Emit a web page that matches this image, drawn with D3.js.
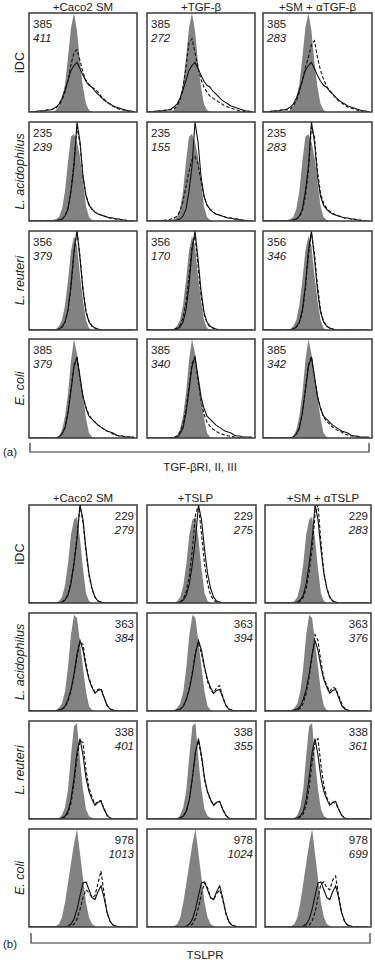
<!DOCTYPE html>
<html><head><meta charset="utf-8">
<script src="https://cdn.jsdelivr.net/npm/d3@7"></script>
<style>html,body{margin:0;padding:0;background:#fff;}svg{display:block;}</style>
</head><body><svg id="c" width="375" height="960"></svg>
<script>
// ---------- DATA ----------
const channels = [0,3,6,9,12,15,18,21,24,27,30,33,36,39,42,45,48,51,54,57,60,63,66,69,72,75,78,81,84,87,90,93,96,99,102,105];
const rowLabels = ["iDC", "L. acidophilus", "L. reuteri", "E. coli"];
const aTitles = ["+Caco2 SM", "+TGF-β", "+SM + αTGF-β"];
const bTitles = ["+Caco2 SM", "+TSLP", "+SM + αTSLP"];
const aAxisLabel = "TGF-βRI, II, III";
const bAxisLabel = "TSLPR";

// (a) TGF-beta receptor: isotype (filled), untreated (solid), treated (dashed)
const aGray = [
 [0,0,0,0,0,0,0,0,0,2,6,14,28,55,85,100,82,50,25,8,2,0,0,0,0,0,0,0,0,0,0,0,0,0,0,0],
 [0,0,0,0,0,0,0,1,1,2,4,12,30,60,85,88,80,65,40,15,4,1,0,0,0,0,0,0,0,0,0,0,0,0,0,0],
 [0,0,0,0,0,0,0,0,0,1,4,10,25,50,80,95,85,55,30,10,2,0,0,0,0,0,0,0,0,0,0,0,0,0,0,0],
 [0,0,0,0,0,0,0,0,0,0,2,8,22,45,78,100,85,62,42,20,5,1,0,0,0,0,0,0,0,0,0,0,0,0,0,0]
];
const aSolid = [
 [0,0,0,1,1,1,2,2,3,5,8,14,22,32,42,47,50,44,37,31,27,25,21,18,15,12,10,8,6,5,4,3,2,1,1,0],
 [0,0,0,0,0,0,0,0,0,0,1,2,5,12,30,55,100,80,45,25,16,12,9,7,6,5,4,3,3,2,2,1,1,0,0,0],
 [0,0,0,0,0,0,0,0,0,0,1,3,8,20,45,80,100,72,40,18,8,4,2,1,0,0,0,0,0,0,0,0,0,0,0,0],
 [0,0,0,0,0,0,0,0,0,0,1,4,10,25,48,72,82,62,42,30,22,19,16,13,11,9,7,6,5,3,2,2,1,1,1,1]
];
const aDashedCaco = [
 [0,0,0,1,1,1,2,2,3,4,7,12,20,32,48,60,63,52,40,32,28,25,23,20,16,13,10,8,6,4,3,2,2,1,1,0],
 [0,0,0,0,0,0,0,0,0,0,1,2,5,13,32,60,95,78,45,26,17,12,9,7,6,5,4,3,3,2,2,1,1,0,0,0],
 [0,0,0,0,0,0,0,0,0,0,1,3,8,20,44,78,100,75,42,19,9,4,2,1,0,0,0,0,0,0,0,0,0,0,0,0],
 [0,0,0,0,0,0,0,0,0,0,1,4,11,27,50,74,80,60,42,31,23,19,16,13,11,9,7,6,4,3,2,2,1,1,1,0]
];
const aDashedTGF = [
 [0,0,0,1,1,1,1,2,2,3,6,12,25,45,70,74,60,45,33,25,20,16,14,12,10,8,6,5,4,3,2,1,1,0,0,0],
 [0,0,0,0,0,0,1,1,2,3,5,10,20,35,50,62,65,58,40,25,16,12,9,7,6,5,4,3,3,2,2,1,1,0,0,0],
 [0,0,0,0,0,0,0,0,0,1,2,5,12,28,55,85,95,65,35,16,7,3,2,1,0,0,0,0,0,0,0,0,0,0,0,0],
 [0,0,0,0,0,0,0,0,0,1,2,6,14,30,52,75,82,58,38,24,16,12,9,7,5,4,3,2,2,1,1,0,0,0,0,0]
];
const aDashedAnti = [
 [0,0,0,1,1,1,2,2,2,3,6,11,20,32,45,55,68,72,55,42,33,26,22,18,14,11,9,7,5,4,3,2,1,1,0,0],
 [0,0,0,0,0,0,0,0,0,0,1,2,4,10,25,50,95,85,50,28,18,13,10,8,6,5,4,3,3,2,2,1,1,0,0,0],
 [0,0,0,0,0,0,0,0,0,0,1,3,7,18,42,75,98,78,45,20,9,4,2,1,0,0,0,0,0,0,0,0,0,0,0,0],
 [0,0,0,0,0,0,0,0,0,0,1,4,10,26,50,74,82,62,42,30,21,17,14,11,9,7,6,4,3,2,2,1,1,0,0,0]
];
const aMfiSolid = [385, 235, 356, 385];
const aMfiDashed = [[411,272,283],[239,155,283],[379,170,346],[379,340,342]];

// (b) TSLP receptor
const bGray = [
 [0,0,0,0,0,0,0,0,0,0,2,6,18,40,70,85,88,65,35,10,2,0,0,0,0,0,0,0,0,0,0,0,0,0,0,0],
 [0,0,0,0,0,0,0,0,0,1,3,8,20,45,78,98,95,70,45,20,5,1,0,0,0,0,0,0,0,0,0,0,0,0,0,0],
 [0,0,0,0,0,0,0,0,0,0,1,4,12,30,65,95,98,60,30,10,3,1,0,0,0,0,0,0,0,0,0,0,0,0,0,0],
 [0,0,0,0,0,0,0,0,0,1,3,10,25,45,65,85,100,75,50,25,10,3,1,0,0,0,0,0,0,0,0,0,0,0,0,0]
];
const bSolid = [
 [0,0,0,0,0,0,0,0,0,0,0,1,3,8,20,40,65,100,85,55,30,15,6,2,1,0,0,0,0,0,0,0,0,0,0,0],
 [0,0,0,0,0,0,0,0,0,0,1,2,5,12,22,38,58,72,62,45,32,24,18,21,22,14,6,2,1,0,0,0,0,0,0,0],
 [0,0,0,0,0,0,0,0,0,0,0,1,3,8,20,42,68,82,65,42,28,20,14,17,18,10,4,1,0,0,0,0,0,0,0,0],
 [0,0,0,0,0,0,0,0,0,0,0,0,0,1,3,8,18,32,45,46,38,30,28,36,42,30,15,6,2,1,0,0,0,0,0,0]
];
const bDashedCaco = [
 [0,0,0,0,0,0,0,0,0,0,0,1,3,9,22,42,68,100,82,52,28,14,6,2,1,0,0,0,0,0,0,0,0,0,0,0],
 [0,0,0,0,0,0,0,0,0,0,1,2,4,10,20,35,55,70,68,48,34,25,19,22,23,14,6,2,1,0,0,0,0,0,0,0],
 [0,0,0,0,0,0,0,0,0,0,0,1,2,6,16,36,62,80,78,50,32,22,15,18,19,11,4,1,0,0,0,0,0,0,0,0],
 [0,0,0,0,0,0,0,0,0,0,0,0,0,0,1,3,8,18,30,38,35,30,32,45,57,35,15,6,2,1,0,0,0,0,0,0]
];
const bDashedTSLP = [
 [0,0,0,0,0,0,0,0,0,0,0,1,4,12,28,55,90,100,70,40,20,8,3,1,0,0,0,0,0,0,0,0,0,0,0,0],
 [0,0,0,0,0,0,0,0,0,0,1,2,5,12,24,40,60,70,58,44,30,22,18,24,26,15,6,2,1,0,0,0,0,0,0,0],
 [0,0,0,0,0,0,0,0,0,0,0,1,3,8,20,42,68,80,62,40,27,19,14,17,18,10,4,1,0,0,0,0,0,0,0,0],
 [0,0,0,0,0,0,0,0,0,0,0,0,0,0,1,3,9,20,34,45,40,30,28,34,38,28,14,5,2,1,0,0,0,0,0,0]
];
const bDashedAnti = [
 [0,0,0,0,0,0,0,0,0,0,0,0,2,6,15,32,55,90,100,62,32,15,6,2,1,0,0,0,0,0,0,0,0,0,0,0],
 [0,0,0,0,0,0,0,0,0,0,1,1,3,8,18,34,56,78,72,50,34,26,20,24,23,16,8,3,1,0,0,0,0,0,0,0],
 [0,0,0,0,0,0,0,0,0,0,0,1,2,5,14,32,58,78,82,55,34,22,15,17,16,10,4,1,0,0,0,0,0,0,0,0],
 [0,0,0,0,0,0,0,0,0,0,0,0,0,0,1,2,6,15,30,44,46,40,38,48,52,32,15,6,2,1,0,0,0,0,0,0]
];
const bMfiSolid = [229, 363, 338, 978];
const bMfiDashed = [[279,275,283],[384,394,376],[401,355,361],[1013,1024,699]];

// ---------- DRAW ----------
const svg = d3.select("#c");
const FONT = "'Liberation Sans', Arial, Helvetica, sans-serif";
const TXT = "#222";
let clipId = 0;

function drawPart(cfg) {
  const dashedSets = cfg.dashed;
  cfg.rowY.forEach((py, r) => {
    svg.append("text")
      .attr("transform", `translate(${cfg.labelX},${py + cfg.h / 2}) rotate(-90)`)
      .attr("text-anchor", "middle")
      .style("font-family", FONT).style("font-size", "12.5px")
      .style("font-style", r === 0 ? "normal" : "italic")
      .attr("fill", TXT).text(rowLabels[r]);
    cfg.colX.forEach((px, c) => {
      const w = cfg.w[c], h = cfg.h;
      const x = d3.scaleLinear().domain([0, 108]).range([px, px + w]);
      const y = d3.scaleLinear().domain([0, 100]).range([py + h, py]);
      const id = "clip" + (clipId++);
      svg.append("clipPath").attr("id", id).append("rect")
        .attr("x", px).attr("y", py).attr("width", w).attr("height", h);
      const g = svg.append("g").attr("clip-path", `url(#${id})`);
      const area = d3.area().x((d, i) => x(channels[i])).y0(y(0)).y1(d => y(d)).curve(d3.curveLinear);
      const line = d3.line().x((d, i) => x(channels[i])).y(d => y(d)).curve(d3.curveLinear);
      g.append("path").datum(cfg.gray[r]).attr("d", area).attr("fill", "#828282");
      g.append("path").datum(cfg.solid[r]).attr("d", line).attr("fill", "none")
        .attr("stroke", "#111").attr("stroke-width", 1.1);
      g.append("path").datum(dashedSets[c][r]).attr("d", line).attr("fill", "none")
        .attr("stroke", "#111").attr("stroke-width", 1.1).attr("stroke-dasharray", "3.5,2");
      svg.append("rect").attr("x", px).attr("y", py).attr("width", w).attr("height", h)
        .attr("fill", "none").attr("stroke", "#3a3a3a").attr("stroke-width", 1.5);
      const tx = cfg.numRight ? px + w - 3 : px + 4;
      const anchor = cfg.numRight ? "end" : "start";
      svg.append("text").attr("x", tx).attr("y", py + cfg.n1).attr("text-anchor", anchor)
        .style("font-family", FONT).style("font-size", "11.5px").attr("fill", TXT)
        .text(cfg.mfiSolid[r]);
      svg.append("text").attr("x", tx).attr("y", py + cfg.n2).attr("text-anchor", anchor)
        .style("font-family", FONT).style("font-size", "11.5px").style("font-style", "italic")
        .attr("fill", TXT).text(cfg.mfiDashed[r][c]);
    });
  });
  cfg.colX.forEach((px, c) => {
    svg.append("text").attr("x", px + cfg.w[c] / 2 + cfg.titleDx[c]).attr("y", cfg.titleY)
      .attr("text-anchor", "middle").style("font-family", FONT).style("font-size", "11.5px")
      .attr("fill", TXT).text(cfg.titles[c]);
  });
  const bl = cfg.bracket;
  svg.append("path")
    .attr("d", `M${bl.x0},${bl.y - bl.tick}V${bl.y}H${bl.x1}V${bl.y - bl.tick}`)
    .attr("fill", "none").attr("stroke", "#333").attr("stroke-width", 1.2);
  svg.append("text").attr("x", bl.labelX).attr("y", bl.labelY).attr("text-anchor", "middle")
    .style("font-family", FONT).style("font-size", "11.5px").attr("fill", TXT).text(cfg.axisLabel);
  svg.append("text").attr("x", 3).attr("y", bl.partY)
    .style("font-family", FONT).style("font-size", "11.5px").attr("fill", TXT).text(cfg.part);
}

drawPart({
  part: "(a)", titles: aTitles, axisLabel: aAxisLabel,
  colX: [29, 147, 263], w: [108, 108, 109], rowY: [13, 122, 231, 339], h: 99,
  labelX: 24, titleY: 11, titleDx: [0, 0, 0],
  gray: aGray, solid: aSolid, dashed: [aDashedCaco, aDashedTGF, aDashedAnti],
  mfiSolid: aMfiSolid, mfiDashed: aMfiDashed, numRight: false, n1: 15, n2: 29,
  bracket: { x0: 30, x1: 369, y: 452, tick: 9, labelX: 200, labelY: 471, partY: 456 }
});
drawPart({
  part: "(b)", titles: bTitles, axisLabel: bAxisLabel,
  colX: [29, 147, 265], w: [108, 109, 106], rowY: [505, 613, 721, 829], h: 98,
  labelX: 24, titleY: 502, titleDx: [0, -6, 5],
  gray: bGray, solid: bSolid, dashed: [bDashedCaco, bDashedTSLP, bDashedAnti],
  mfiSolid: bMfiSolid, mfiDashed: bMfiDashed, numRight: true, n1: 15, n2: 29,
  bracket: { x0: 31, x1: 370, y: 943, tick: 10, labelX: 205, labelY: 959, partY: 948 }
});
</script></body></html>
